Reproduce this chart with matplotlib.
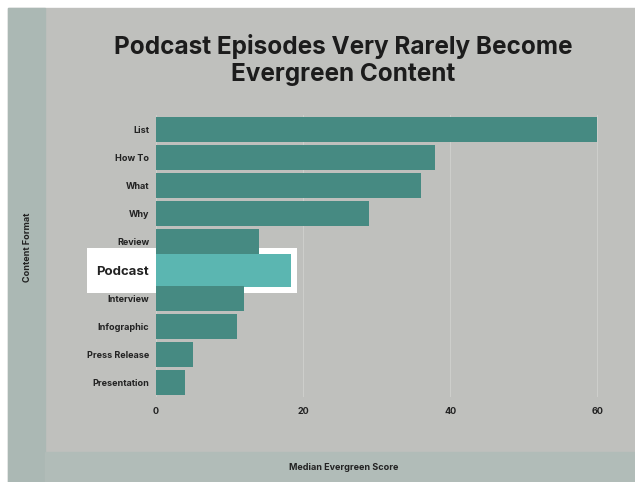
import matplotlib.pyplot as plt
from matplotlib.patches import Rectangle

formats = ['List', 'How To', 'What', 'Why', 'Review', 'Podcast',
           'Interview', 'Infographic', 'Press Release', 'Presentation']
scores = [60, 38, 36, 29, 14, 18.4, 12, 11, 5, 4]
xticks = [0, 20, 40, 60]
highlight = 'Podcast'

bar_col = '#468a82'
hl_col = '#5bb6b1'
panel = '#bfc0bd'
strip = '#abb8b4'
ink = '#222222'

plt.rcParams['font.family'] = ['Inter', 'DejaVu Sans']

fig = plt.figure(figsize=(6.35, 4.82), dpi=100, facecolor='white')

# card background with the tinted left and bottom bands
fig.patches.append(Rectangle((8/635, 0), 1, 1 - 8/482, transform=fig.transFigure,
                             color=panel, zorder=0))
fig.patches.append(Rectangle((8/635, 0), 37/635, 1 - 8/482, transform=fig.transFigure,
                             color=strip, zorder=0))
fig.patches.append(Rectangle((45/635, 0), 1, 30/482, transform=fig.transFigure,
                             color='#b1bcb8', zorder=0))

ax = fig.add_axes([156/635, 85/482, 456/635, 282/482])
ax.set_zorder(2)
ax.set_facecolor('none')
ax.set_axisbelow(False)

ypos = list(range(len(formats)))
colors = [hl_col if f == highlight else bar_col for f in formats]
heights = [1.17 if f == highlight else 0.89 for f in formats]
ax.barh(ypos, scores, height=heights, color=colors, zorder=3)

# white box around the highlighted row
i = formats.index(highlight)
ax.add_patch(Rectangle((-9.4, i - 0.8), 28.6, 1.6, facecolor='white',
                       edgecolor='none', clip_on=False, zorder=2))

ax.set_xlim(0, 62)
ax.set_ylim(len(formats) - 0.5, -0.5)
ax.set_xticks(xticks)
ax.set_xticklabels([str(t) for t in xticks], fontsize=6.5, fontweight='bold', color=ink)
ax.set_yticks(ypos)
ax.set_yticklabels(formats, fontsize=6.5, fontweight='bold', color=ink)
for lab in ax.get_yticklabels():
    if lab.get_text() == highlight:
        lab.set_fontsize(9.5)
ax.tick_params(axis='y', length=0, pad=5)
ax.tick_params(axis='x', length=0, pad=7)
ax.grid(axis='x', color='#cdcecb', linewidth=0.8)
for s in ax.spines.values():
    s.set_visible(False)

fig.text(343/635, 1 - 60/482, 'Podcast Episodes Very Rarely Become\nEvergreen Content',
         ha='center', va='center', fontsize=17.5, fontweight='bold', color='#1c1c1c',
         linespacing=1.2)
fig.text(344/635, 1 - 468/482, 'Median Evergreen Score', ha='center', va='center',
         fontsize=6.5, fontweight='bold', color=ink)
fig.text(27/635, 1 - 247/482, 'Content Format', ha='center', va='center',
         rotation=90, fontsize=6.5, fontweight='bold', color=ink)

fig.savefig('out.png', dpi=100, facecolor='white')
